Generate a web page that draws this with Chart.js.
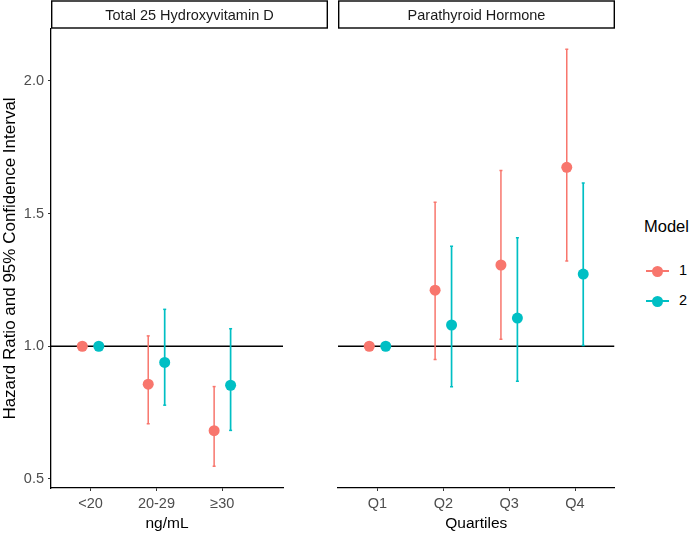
<!DOCTYPE html>
<html>
<head>
<meta charset="utf-8">
<script src="https://cdn.jsdelivr.net/npm/chart.js@4.4.1/dist/chart.umd.min.js"></script>
<style>
  body { margin: 0; background: #fff; width: 692px; height: 533px; position: relative; overflow: hidden;
         font-family: "Liberation Sans", Arial, sans-serif; }
  #boxLeft { position: absolute; left: 0; top: 0; width: 330px; height: 533px; }
  #boxRight { position: absolute; left: 330px; top: 0; width: 290px; height: 533px; }
  #legend { position: absolute; left: 644px; top: 214px; color: #000; }
  #legend .title { font-size: 16.5px; height: 24px; line-height: 24px; }
  #legend .item { position: relative; height: 30px; }
  #legend .ln { position: absolute; left: 2px; width: 23px; height: 1.6px; top: 15px; }
  #legend .dot { position: absolute; left: 8px; width: 11px; height: 11px; border-radius: 50%; top: 10.5px; }
  #legend .lab { position: absolute; left: 35px; top: 7px; font-size: 14.5px; }
</style>
</head>
<body>
<div id="boxLeft"><canvas id="leftCanvas"></canvas></div>
<div id="boxRight"><canvas id="rightCanvas"></canvas></div>
<div id="legend">
  <div class="title">Model</div>
  <div class="item" style="margin-top:17px"><span class="ln" style="background:#F8766D"></span><span class="dot" style="background:#F8766D"></span><span class="lab">1</span></div>
  <div class="item"><span class="ln" style="background:#00BFC4"></span><span class="dot" style="background:#00BFC4"></span><span class="lab">2</span></div>
</div>
<script>
// ---------------- DATA ----------------
const vitdLabels = ['<20', '20-29', '≥30'];
const vitdHr1 = [1.0, 0.857, 0.682];
const vitdLo1 = [null, 0.708, 0.548];
const vitdHi1 = [null, 1.039, 0.848];
const vitdHr2 = [1.0, 0.939, 0.853];
const vitdLo2 = [null, 0.778, 0.683];
const vitdHi2 = [null, 1.139, 1.066];

const pthLabels = ['Q1', 'Q2', 'Q3', 'Q4'];
const pthHr1 = [1.0, 1.211, 1.306, 1.674];
const pthLo1 = [null, 0.950, 1.026, 1.321];
const pthHi1 = [null, 1.542, 1.662, 2.119];
const pthHr2 = [1.0, 1.080, 1.106, 1.272];
const pthLo2 = [null, 0.847, 0.868, 1.003];
const pthHi2 = [null, 1.377, 1.409, 1.615];

const RED = '#F8766D';
const TEAL = '#00BFC4';
const FONT = '"Liberation Sans", Arial, sans-serif';
const DODGE = 0.125;
const Y_MIN = 0.466, Y_MAX = 2.195;
const PANEL_W = 277;

Chart.defaults.font.family = FONT;
Chart.defaults.animation = false;

// estimate points and error bar segments, shifted for dodge
function points(hr, shift) {
  return hr.map((v, i) => ({ x: i + 1 + shift, y: v }));
}
function segments(lo, hi, shift) {
  const out = [];
  lo.forEach((l, i) => {
    if (l === null) return;
    const x = i + 1 + shift;
    out.push({ x: x, y: l }, { x: x, y: hi[i] }, { x: x, y: null });
  });
  return out;
}

// strip box above each panel
const stripPlugin = {
  id: 'strip',
  afterDraw(chart, args, opts) {
    const ctx = chart.ctx, a = chart.chartArea;
    ctx.save();
    ctx.strokeStyle = '#000';
    ctx.lineWidth = 1.4;
    ctx.fillStyle = '#fff';
    ctx.fillRect(a.left, 1, PANEL_W, 27);
    ctx.strokeRect(a.left + 0.7, 1, PANEL_W - 1.4, 27);
    ctx.fillStyle = '#1a1a1a';
    ctx.font = '14.5px ' + FONT;
    ctx.textAlign = 'center';
    ctx.textBaseline = 'middle';
    ctx.fillText(opts.text, a.left + PANEL_W / 2, 15.5);
    ctx.restore();
  }
};

function buildConfig(cfg) {
  return {
    type: 'scatter',
    data: {
      datasets: [
        { data: points(cfg.hr1, -DODGE), backgroundColor: RED, borderColor: RED, pointRadius: 5.5, pointHoverRadius: 5.5, borderWidth: 0 },
        { data: points(cfg.hr2, DODGE), backgroundColor: TEAL, borderColor: TEAL, pointRadius: 5.5, pointHoverRadius: 5.5, borderWidth: 0 },
        { data: segments(cfg.lo1, cfg.hi1, -DODGE), showLine: true, spanGaps: false, borderColor: RED, borderWidth: 1.5,
          pointStyle: 'line', pointRadius: 1.5, pointBorderColor: RED, pointBorderWidth: 1.5 },
        { data: segments(cfg.lo2, cfg.hi2, DODGE), showLine: true, spanGaps: false, borderColor: TEAL, borderWidth: 1.7,
          pointStyle: 'line', pointRadius: 1.5, pointBorderColor: TEAL, pointBorderWidth: 1.5 },
        { data: [{ x: 0.4, y: 1 }, { x: cfg.xMax, y: 1 }], showLine: true, borderColor: '#000', borderWidth: 1.3, pointRadius: 0 }
      ]
    },
    options: {
      responsive: true,
      maintainAspectRatio: false,
      events: [],
      layout: { padding: cfg.padding },
      plugins: {
        legend: { display: false },
        tooltip: { enabled: false },
        strip: { text: cfg.strip }
      },
      scales: {
        x: {
          type: 'linear',
          min: 0.4,
          max: cfg.xMax,
          afterFit(scale) { scale.height = 45; },
          border: { display: true, color: '#000', width: 1.3 },
          grid: { drawOnChartArea: false, color: '#333', tickLength: 3 },
          ticks: {
            stepSize: 1,
            includeBounds: false,
            padding: 4,
            color: '#4D4D4D',
            font: { size: 14.5 },
            maxRotation: 0,
            callback: v => cfg.labels[v - 1] || ''
          },
          title: { display: true, text: cfg.xTitle, color: '#000', font: { size: 15.5 }, padding: { top: 0, bottom: 0 } }
        },
        y: {
          display: cfg.showY,
          min: Y_MIN,
          max: Y_MAX,
          afterFit(scale) { if (cfg.showY) scale.width = 51; },
          border: { display: true, color: '#000', width: 1.3 },
          grid: { drawOnChartArea: false, color: '#333', tickLength: 3 },
          ticks: {
            stepSize: 0.5,
            includeBounds: false,
            padding: 4,
            color: '#4D4D4D',
            font: { size: 14.5 },
            callback: v => v.toFixed(1)
          },
          title: { display: true, text: 'Hazard Ratio and 95% Confidence Interval', color: '#000', font: { size: 17 }, padding: { top: 0, bottom: 0 } }
        }
      }
    },
    plugins: [stripPlugin]
  };
}

const leftChart = new Chart(document.getElementById('leftCanvas').getContext('2d'), buildConfig({
  labels: vitdLabels, hr1: vitdHr1, lo1: vitdLo1, hi1: vitdHi1, hr2: vitdHr2, lo2: vitdLo2, hi2: vitdHi2,
  xMax: 3.92, strip: 'Total 25 Hydroxyvitamin D', xTitle: 'ng/mL', showY: true,
  padding: { top: 29, right: 47, left: 0, bottom: 0 }
}));

const rightChart = new Chart(document.getElementById('rightCanvas').getContext('2d'), buildConfig({
  labels: pthLabels, hr1: pthHr1, lo1: pthLo1, hi1: pthHi1, hr2: pthHr2, lo2: pthLo2, hi2: pthHi2,
  xMax: 4.6, strip: 'Parathyroid Hormone', xTitle: 'Quartiles', showY: false,
  padding: { top: 29, right: 5, left: 8, bottom: 0 }
}));
</script>
</body>
</html>
